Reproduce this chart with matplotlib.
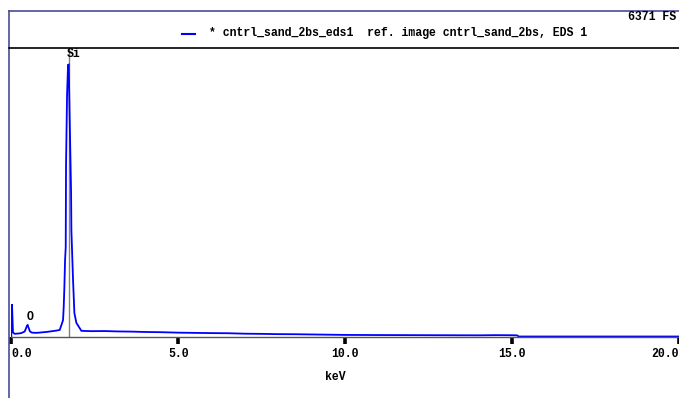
import numpy as np
import matplotlib
matplotlib.use('Agg')
import matplotlib.pyplot as plt
from matplotlib.lines import Line2D

# spectrum (keV, counts)
energy = [0.00, 0.02, 0.05, 0.10, 0.20, 0.30, 0.40, 0.44, 0.47, 0.49, 0.52, 0.56, 0.62,
          0.75, 0.90, 1.05, 1.20, 1.35, 1.45, 1.50, 1.55, 1.57, 1.59, 1.61, 1.63, 1.64,
          1.67, 1.70, 1.72, 1.75, 1.79, 1.80, 1.85, 1.89, 1.95, 2.10, 2.40, 2.80, 3.20,
          3.60, 4.00, 4.50, 5.00, 5.50, 6.00, 6.50, 7.00, 7.50, 8.00, 8.50, 9.00, 9.50,
          10.0, 11.0, 12.0, 13.0, 14.0, 14.5, 15.0, 15.15, 15.2, 20.0]
counts = [0, 713, 90, 60, 65, 75, 110, 180, 240, 252, 190, 110, 85,
          80, 90, 100, 115, 130, 145, 250, 362, 653, 1092, 1678, 1969, 3805,
          5340, 5998, 6004, 4755, 3213, 2336, 1239, 515, 300, 125, 118, 120, 112,
          108, 100, 95, 85, 80, 75, 72, 62, 58, 52, 50, 45, 40,
          35, 32, 30, 28, 26, 30, 28, 25, 0, 0]

lines_kev = [1.72]
line_labels = ['Si']
o_label = (0.55, 'O')

ticks = [0, 5, 10, 15, 20]
tick_labels = ['0.0', '5.0', '10.0', '15.0', '20.0']
full_scale = 6371

W, H = 679, 398
fig = plt.figure(figsize=(W / 100, H / 100), dpi=100)
fig.patch.set_facecolor('white')

font = dict(family='Liberation Mono', weight='bold', size=8.3)

left, right = 11.3 / W, 1.0
bottom, top = (H - 336.5) / H, (H - 48) / H
ax = fig.add_axes([left, bottom, right - left, top - bottom])

ax.plot(energy, counts, color='#0000ff', lw=1.3, solid_joinstyle='miter')
for e, lab in zip(lines_kev, line_labels):
    ax.axvline(e, color='#808080', lw=1.0, zorder=0)
    ax.text(e + 0.15, full_scale * 1.0, lab, ha='center', va='top', **font)
ax.text(o_label[0], 300, o_label[1], ha='center', va='bottom', **font)

ax.set_xlim(0, 20)
ax.set_ylim(0, full_scale)
for s in ['top', 'left', 'right']:
    ax.spines[s].set_visible(False)
ax.spines['bottom'].set_color('#555555')
ax.spines['bottom'].set_linewidth(1.0)
ax.set_yticks([])
ax.set_xticks(ticks)
ax.set_xticklabels(tick_labels, **font)
ax.get_xticklabels()[0].set_horizontalalignment('left')
ax.get_xticklabels()[-1].set_horizontalalignment('right')
ax.tick_params(axis='x', direction='out', length=5, width=2.6, color='black', pad=3)
ax.set_xlabel('keV', **font)
ax.xaxis.set_label_coords((335 - 11.3) / (W - 11.3), -0.12)

# frame lines
fig.add_artist(Line2D([9 / W, 1], [1 - 11 / H, 1 - 11 / H], color='#4a4a9a', lw=1.2))
fig.add_artist(Line2D([9 / W, 9 / W], [0, 1 - 11 / H], color='#4a4a9a', lw=1.2))
fig.add_artist(Line2D([9 / W, 1], [1 - 48 / H, 1 - 48 / H], color='black', lw=1.2))

# header
fig.text(676 / W, 1 - 17 / H, '%d FS' % full_scale, ha='right', va='center', **font)
fig.add_artist(Line2D([182 / W, 195 / W], [1 - 34 / H, 1 - 34 / H], color='#0000ff', lw=1.5))
fig.text(209 / W, 1 - 33 / H, '* cntrl_sand_2bs_eds1  ref. image cntrl_sand_2bs, EDS 1',
         ha='left', va='center', **font)

fig.savefig('out.png', dpi=100)
